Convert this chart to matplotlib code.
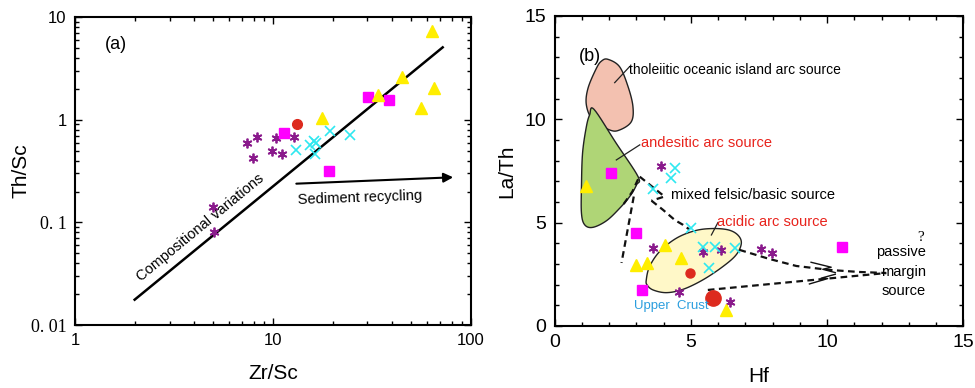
import numpy as np
import matplotlib.pyplot as plt
from matplotlib.ticker import MultipleLocator, LogLocator, NullFormatter

plt.rcParams['font.family'] = ['Liberation Sans', 'DejaVu Sans']

# ---- colours
purple = '#8a1a8c'
cyan = '#2ee8f0'
magenta = '#ff00ff'
yellow = '#ffee00'
red = '#dd2a1e'

# ---- panel (a): Zr/Sc vs Th/Sc
a_star_x = [7.4, 8.3, 7.9, 9.9, 10.3, 11.1, 12.8, 4.95, 5.05]
a_star_y = [0.59, 0.68, 0.42, 0.50, 0.66, 0.46, 0.68, 0.143, 0.081]
a_cross_x = [13.0, 15.4, 16.1, 16.5, 16.3, 19.3, 24.5]
a_cross_y = [0.51, 0.57, 0.615, 0.60, 0.46, 0.77, 0.71]
a_sq_x = [11.4, 19.1, 30.1, 38.4]
a_sq_y = [0.75, 0.32, 1.65, 1.57]
a_tri_x = [17.7, 33.9, 45.1, 56.1, 63.5, 64.8]
a_tri_y = [1.04, 1.73, 2.6, 1.30, 7.25, 2.03]
a_circ_x = [13.2]
a_circ_y = [0.91]
a_line_x = [2.0, 72.0]
a_line_y = [0.0177, 5.07]
a_arrow_x = [12.7, 84.0]
a_arrow_y = [0.238, 0.276]

# ---- panel (b): Hf vs La/Th
b_star_x = [3.89, 3.61, 5.44, 6.11, 4.55, 6.44, 7.58, 7.98]
b_star_y = [7.74, 3.76, 3.56, 3.65, 1.66, 1.18, 3.73, 3.55]
b_cross_x = [4.43, 4.28, 3.61, 5.01, 5.44, 5.87, 6.63, 5.68]
b_cross_y = [7.63, 7.18, 6.61, 4.73, 3.84, 3.84, 3.79, 2.82]
b_sq_x = [2.08, 3.0, 3.2, 10.53]
b_sq_y = [7.42, 4.48, 1.74, 3.84]
b_tri_x = [1.16, 4.06, 4.65, 3.0, 3.39, 6.30]
b_tri_y = [6.77, 3.92, 3.27, 2.95, 3.03, 0.77]
b_circ_x = [4.98]
b_circ_y = [2.58]
uc_x = [5.81]
uc_y = [1.34]

tholeiitic_x = [1.95, 2.38, 2.69, 2.87, 2.81, 2.38, 2.02, 1.40, 1.16, 1.22, 1.53, 1.72]
tholeiitic_y = [12.90, 12.54, 11.58, 10.61, 9.88, 9.48, 9.48, 9.97, 10.69, 11.50, 12.47, 12.82]
andesitic_x = [1.44, 2.25, 3.06, 3.0, 2.75, 2.38, 1.90, 1.40, 1.10, 0.98, 0.98, 1.02, 1.16, 1.28]
andesitic_y = [10.48, 8.85, 7.22, 6.82, 6.26, 5.69, 5.09, 4.77, 4.89, 5.45, 6.74, 8.36, 9.64, 10.21]
acidic_x = [3.36, 3.48, 3.85, 4.46, 5.13, 5.75, 6.36, 6.72, 6.85, 6.66, 6.17, 5.44, 4.71, 4.10, 3.61, 3.39]
acidic_y = [2.23, 2.87, 3.60, 4.24, 4.60, 4.71, 4.65, 4.40, 4.00, 3.44, 2.87, 2.23, 1.77, 1.61, 1.74, 1.98]


def smooth_closed(x, y, n=12):
    # Catmull-Rom closed curve through the outline points (drawing only)
    p = np.column_stack([x, y])
    out = []
    m = len(p)
    for i in range(m):
        p0, p1, p2, p3 = p[i - 1], p[i], p[(i + 1) % m], p[(i + 2) % m]
        for t in np.linspace(0, 1, n, endpoint=False):
            t2, t3 = t * t, t * t * t
            out.append(0.5 * ((2 * p1) + (-p0 + p2) * t + (2 * p0 - 5 * p1 + 4 * p2 - p3) * t2
                              + (-p0 + 3 * p1 - 3 * p2 + p3) * t3))
    out.append(out[0])
    out = np.array(out)
    return out[:, 0], out[:, 1]


fig = plt.figure(figsize=(9.75, 3.88), dpi=100)
ax1 = fig.add_axes([0.077, 0.162, 0.406, 0.794])
ax2 = fig.add_axes([0.569, 0.160, 0.419, 0.799])

# ================= panel (a)
ax1.set_xscale('log')
ax1.set_yscale('log')
ax1.set_xlim(1, 100)
ax1.set_ylim(0.01, 10)

ax1.plot(a_line_x, a_line_y, color='black', lw=1.8, zorder=2)
ax1.annotate('', xy=(a_arrow_x[1], a_arrow_y[1]), xytext=(a_arrow_x[0], a_arrow_y[0]),
             arrowprops=dict(arrowstyle='-|>', color='black', lw=1.5, mutation_scale=14))
ax1.plot(a_star_x, a_star_y, ls='none', marker=(6, 2, 0), ms=7, mew=1.3, color=purple, zorder=3)
ax1.plot(a_cross_x, a_cross_y, ls='none', marker='x', ms=7, mew=1.2, color=cyan, zorder=3)
ax1.plot(a_sq_x, a_sq_y, ls='none', marker='s', ms=7, color=magenta, zorder=3)
ax1.plot(a_tri_x, a_tri_y, ls='none', marker='^', ms=8, color=yellow, zorder=3)
ax1.plot(a_circ_x, a_circ_y, ls='none', marker='o', ms=7, color=red, zorder=3)

ax1.text(1.42, 5.4, '(a)', fontsize=13, ha='left', va='center')
ax1.text(4.3, 0.09, 'Compositional variations', fontsize=10.5, rotation=39.5,
         ha='center', va='center', rotation_mode='anchor')
ax1.text(27.5, 0.172, 'Sediment recycling', fontsize=10.5, rotation=2, ha='center', va='center')

ax1.set_xticks([1, 10, 100])
ax1.set_xticklabels(['1', '10', '100'], fontsize=12)
ax1.set_yticks([0.01, 0.1, 1, 10])
ylabs = ax1.set_yticklabels(['0. 01', '0. 1', '1', '10'], fontsize=12)
for lab in ylabs[:2]:
    lab.set_family('Liberation Serif')
    lab.set_fontsize(13)
ax1.xaxis.set_minor_locator(LogLocator(base=10, subs=np.arange(2, 10)))
ax1.yaxis.set_minor_locator(LogLocator(base=10, subs=np.arange(2, 10)))
ax1.xaxis.set_minor_formatter(NullFormatter())
ax1.yaxis.set_minor_formatter(NullFormatter())
ax1.set_xlabel('Zr/Sc', fontsize=15, labelpad=11)
ax1.set_ylabel('Th/Sc', fontsize=15, labelpad=0)

# ================= panel (b)
ax2.set_xlim(0, 15)
ax2.set_ylim(0, 15)

tx, ty = smooth_closed(tholeiitic_x, tholeiitic_y)
ax2.fill(tx, ty, facecolor='#f3c1b0', edgecolor='#222222', lw=1.0, zorder=1)
gx, gy = smooth_closed(andesitic_x, andesitic_y, n=8)
ax2.fill(gx, gy, facecolor='#afd576', edgecolor='#222222', lw=1.0, zorder=1.1)
ex, ey = smooth_closed(acidic_x, acidic_y)
ax2.fill(ex, ey, facecolor='#fff8c8', edgecolor='#222222', lw=1.0, zorder=1)

dash = dict(color='#111111', lw=1.6, ls=(0, (3, 2)), zorder=2)
ax2.plot([3.06, 2.85, 2.45], [7.1, 6.5, 5.75], **dash)
ax2.plot([2.90, 2.45], [6.26, 3.05], **dash)
ax2.plot([3.12, 4.03, 3.55], [7.22, 6.26, 6.06], **dash)
ax2.plot([3.55, 3.98, 4.41, 4.71, 4.95], [6.06, 5.61, 5.12, 4.89, 4.66], **dash)
ax2.plot([6.78, 7.88, 8.87, 10.08, 11.18, 12.17], [3.68, 3.24, 2.90, 2.71, 2.61, 2.56], **dash)
ax2.plot([5.62, 12.17], [1.74, 2.56], **dash)
ax2.plot([9.41, 10.15, 9.84, 10.30], [3.08, 2.84, 2.74, 2.58], color='#111111', lw=1.0, zorder=2)
ax2.plot([10.30, 9.78, 10.02, 9.35], [2.50, 2.31, 2.29, 2.03], color='#111111', lw=1.0, zorder=2)

ax2.plot(b_star_x, b_star_y, ls='none', marker=(6, 2, 0), ms=7, mew=1.3, color=purple, zorder=3)
ax2.plot(b_cross_x, b_cross_y, ls='none', marker='x', ms=7, mew=1.2, color=cyan, zorder=3)
ax2.plot(b_sq_x, b_sq_y, ls='none', marker='s', ms=7, color=magenta, zorder=3)
ax2.plot(b_tri_x, b_tri_y, ls='none', marker='^', ms=8, color=yellow, zorder=3)
ax2.plot(b_circ_x, b_circ_y, ls='none', marker='o', ms=6.5, color=red, zorder=3)
ax2.plot(uc_x, uc_y, ls='none', marker='o', ms=11, color=red, zorder=3)

# leaders and labels
ax2.plot([2.20, 2.75], [11.77, 12.55], color='#222222', lw=0.9, zorder=2)
ax2.plot([2.26, 3.12], [8.03, 8.76], color='#222222', lw=0.9, zorder=2)
ax2.plot([5.75, 5.99], [4.40, 5.0], color='#222222', lw=0.9, zorder=2)
ax2.text(1.28, 13.05, '(b)', fontsize=13, ha='center', va='center')
ax2.text(2.72, 12.4, 'tholeiitic oceanic island arc source', fontsize=10, ha='left', va='center')
ax2.text(3.18, 8.85, 'andesitic arc source', fontsize=10.5, color='#e8231c', ha='left', va='center')
ax2.text(4.28, 6.32, 'mixed felsic/basic source', fontsize=10.5, ha='left', va='center')
ax2.text(5.97, 5.05, 'acidic arc source', fontsize=10.5, color='#e8231c', ha='left', va='center')
ax2.text(2.91, 0.95, 'Upper  Crust', fontsize=9.5, color='#2b9ede', ha='left', va='center')
ax2.text(13.45, 4.3, '?', fontsize=11, family='Liberation Serif', ha='center', va='center')
ax2.text(13.62, 3.56, 'passive', fontsize=10.5, ha='right', va='center')
ax2.text(13.62, 2.60, 'margin', fontsize=10.5, ha='right', va='center')
ax2.text(13.62, 1.69, 'source', fontsize=10.5, ha='right', va='center')

ax2.xaxis.set_major_locator(MultipleLocator(5))
ax2.yaxis.set_major_locator(MultipleLocator(5))
ax2.xaxis.set_minor_locator(MultipleLocator(1))
ax2.yaxis.set_minor_locator(MultipleLocator(1))
ax2.tick_params(labelsize=14)
ax2.set_xlabel('Hf', fontsize=15, labelpad=11)
ax2.set_ylabel('La/Th', fontsize=15, labelpad=6)

for ax in (ax1, ax2):
    for s in ax.spines.values():
        s.set_linewidth(1.5)
    ax.tick_params(which='both', direction='in', top=True, right=True, width=1.0)
    ax.tick_params(which='major', length=5)
    ax.tick_params(which='minor', length=3)
    ax.tick_params(which='major', axis='both', pad=6)

fig.savefig('out.png', dpi=100)
